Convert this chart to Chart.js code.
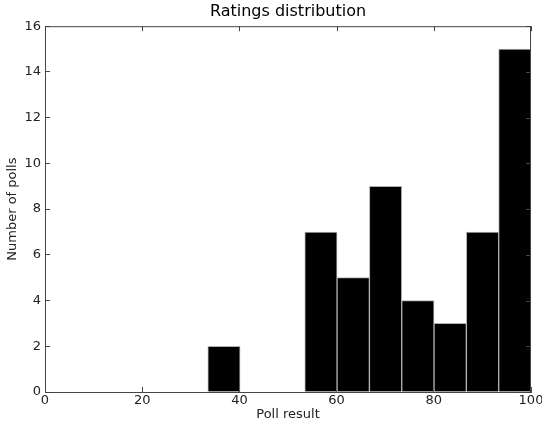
<!DOCTYPE html>
<html>
<head>
<meta charset="utf-8">
<script src="https://cdn.jsdelivr.net/npm/chart.js@4"></script>
<style>
    body { margin: 0; background: #fff; }
    #wrap { width: 542px; height: 425px; }
</style>
</head>
<body>
<div id="wrap"><canvas id="hist"></canvas></div>
<script>
// histogram bins (edges) and how many polls fell into each one
const binEdges = [33.5, 40.15, 46.8, 53.45, 60.1, 66.75, 73.4, 80.05, 86.7, 93.35, 100];
const counts = [2, 0, 0, 7, 5, 9, 4, 3, 7, 15];
const xTicks = [0, 20, 40, 60, 80, 100];
const yTicks = [0, 2, 4, 6, 8, 10, 12, 14, 16];

const FONT = "'DejaVu Sans', sans-serif";
const AXIS = "#444";
const TICK_LEN = 5;

const points = counts.map((c, i) => ({ x: (binEdges[i] + binEdges[i + 1]) / 2, y: c }));

// matplotlib-style box: top/right spines plus inward ticks on those sides,
// and the title centred over the plot area rather than the whole canvas
const boxPlugin = {
    id: "box",
    afterLayout(chart) {
        const tb = chart.titleBlock;
        if (tb) {
            tb.left = chart.chartArea.left;
            tb.right = chart.chartArea.right;
            tb.width = tb.right - tb.left;
        }
    },
    afterDraw(chart) {
        const ctx = chart.ctx;
        const area = chart.chartArea;
        const xs = chart.scales.x;
        const ys = chart.scales.y;
        ctx.save();
        ctx.strokeStyle = AXIS;
        ctx.lineWidth = 1;
        ctx.beginPath();
        ctx.moveTo(area.left, area.top + 0.5);
        ctx.lineTo(area.right, area.top + 0.5);
        ctx.moveTo(area.right - 0.5, area.top);
        ctx.lineTo(area.right - 0.5, area.bottom);
        xs.ticks.forEach((t) => {
            const px = Math.round(xs.getPixelForValue(t.value)) + 0.5;
            ctx.moveTo(px, area.top);
            ctx.lineTo(px, area.top + TICK_LEN);
        });
        ys.ticks.forEach((t) => {
            const py = Math.round(ys.getPixelForValue(t.value)) + 0.5;
            ctx.moveTo(area.right, py);
            ctx.lineTo(area.right - TICK_LEN, py);
        });
        ctx.stroke();
        ctx.restore();
    }
};

new Chart(document.getElementById("hist").getContext("2d"), {
    type: "bar",
    data: {
        datasets: [{
            data: points,
            backgroundColor: "#000",
            borderColor: "#b0b0b0",
            borderWidth: 1,
            barPercentage: 1,
            categoryPercentage: 1,
        }],
    },
    options: {
        responsive: true,
        maintainAspectRatio: false,
        animation: false,
        layout: { padding: { left: 0, right: 11, top: 0, bottom: 0 } },
        plugins: {
            legend: { display: false },
            tooltip: { enabled: false },
            title: {
                display: true,
                text: "Ratings distribution",
                color: "#000",
                font: { family: FONT, size: 16, weight: "normal" },
                padding: { top: 2, bottom: 5 },
                lineHeight: 1.2,
            },
        },
        scales: {
            x: {
                type: "linear",
                offset: false,
                min: 0,
                max: 100,
                afterBuildTicks: (scale) => { scale.ticks = xTicks.map((v) => ({ value: v })); },
                afterFit: (scale) => {
                    scale.height = 33;
                    scale.paddingLeft = 0;
                    scale.paddingRight = 0;
                },
                ticks: {
                    color: "#222",
                    padding: 6,
                    maxRotation: 0,
                    autoSkip: false,
                    font: { family: FONT, size: 13 },
                },
                grid: { offset: false, drawOnChartArea: false, drawTicks: true, tickLength: -TICK_LEN, color: AXIS },
                border: { color: AXIS, width: 1 },
                title: {
                    display: true,
                    text: "Poll result",
                    color: "#222",
                    font: { family: FONT, size: 13 },
                    padding: { top: 0, bottom: 3 },
                },
            },
            y: {
                min: 0,
                max: 16,
                afterBuildTicks: (scale) => { scale.ticks = yTicks.map((v) => ({ value: v })); },
                afterFit: (scale) => {
                    scale.width = 45;
                    scale.paddingTop = 0;
                    scale.paddingBottom = 0;
                },
                ticks: {
                    color: "#222",
                    padding: 9,
                    autoSkip: false,
                    font: { family: FONT, size: 13 },
                },
                grid: { drawOnChartArea: false, drawTicks: true, tickLength: -TICK_LEN, color: AXIS },
                border: { color: AXIS, width: 1 },
                title: {
                    display: true,
                    text: "Number of polls",
                    color: "#222",
                    font: { family: FONT, size: 13 },
                    padding: { top: 5, bottom: 0 },
                },
            },
        },
    },
    plugins: [boxPlugin],
});
</script>
</body>
</html>
